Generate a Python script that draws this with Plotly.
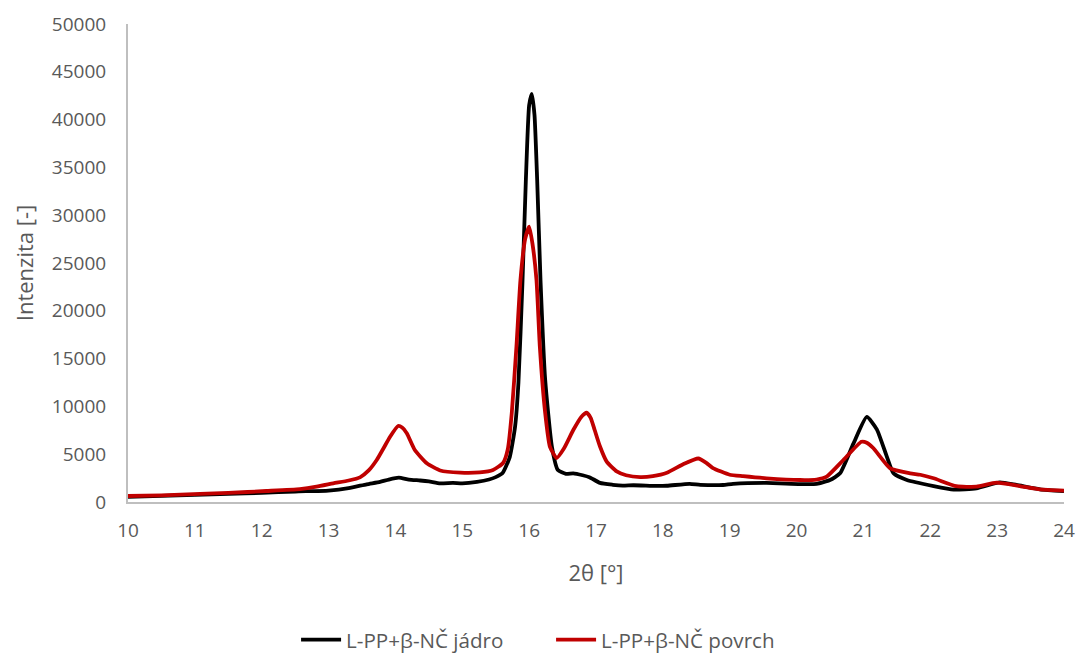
import plotly.graph_objects as go

# 2θ positions and intensities
x_core = [10.0, 10.5, 11.0, 11.5, 12.0, 12.5, 13.0, 13.3, 13.57, 13.77, 13.9, 14.05, 14.2, 14.37,
          14.5, 14.67, 14.86, 15.0, 15.22, 15.4, 15.5, 15.6, 15.71, 15.79, 15.84, 15.9, 15.95,
          16.0, 16.04, 16.08, 16.12, 16.17, 16.24, 16.34, 16.43, 16.55, 16.66, 16.8, 16.9, 17.06,
          17.25, 17.4, 17.56, 17.9, 18.06, 18.4, 18.56, 18.9, 19.05, 19.55, 20.05, 20.3, 20.5,
          20.65, 20.85, 21.05, 21.2, 21.35, 21.45, 21.65, 22.05, 22.35, 22.69, 23.04, 23.29,
          23.64, 24.0]
y_core = [550, 650, 750, 850, 950, 1100, 1200, 1450, 1850, 2100, 2350, 2550, 2350, 2250,
          2150, 1950, 2000, 1950, 2100, 2350, 2600, 3000, 4700, 7900, 12500, 23000, 33500,
          41500, 42700, 40500, 33700, 23200, 12760, 5800, 3350, 2950, 3000, 2800, 2600, 2000,
          1800, 1710, 1750, 1680, 1700, 1900, 1800, 1780, 1900, 2000, 1880, 1900, 2300,
          3000, 6100, 8900, 7600, 4750, 3000, 2300, 1670, 1300, 1430, 2050, 1780,
          1330, 1150]

x_surf = [10.0, 10.5, 11.08, 11.5, 12.07, 12.57, 12.82, 13.07, 13.3, 13.47, 13.6, 13.72, 13.82,
          13.92, 14.04, 14.1, 14.17, 14.29, 14.47, 14.67, 14.97, 15.26, 15.46, 15.61, 15.68,
          15.74, 15.81, 15.87, 15.94, 16.0, 16.05, 16.11, 16.16, 16.24, 16.31, 16.41, 16.52,
          16.66, 16.78, 16.86, 16.92, 16.98, 17.06, 17.16, 17.31, 17.45, 17.66, 17.85, 18.06,
          18.31, 18.53, 18.65, 18.75, 19.0, 19.2, 19.55, 20.05, 20.3, 20.45, 20.7, 20.97,
          21.05, 21.15, 21.4, 21.7, 21.85, 22.05, 22.39, 22.69, 22.99, 23.34, 23.64, 24.0]
y_surf = [630, 700, 850, 950, 1150, 1350, 1600, 1950, 2250, 2580, 3300, 4390, 5600,
          6830, 7950, 7800, 7190, 5440, 4050, 3300, 3070, 3100, 3350, 4080, 5500,
          9300, 16250, 23200, 27500, 28800, 27000, 23200, 16250, 9300, 5800, 4600, 5600,
          7530, 8900, 9340, 8800, 7530, 5800, 4220, 3200, 2800, 2600, 2700, 3050,
          3970, 4550, 4100, 3550, 2850, 2700, 2480, 2300, 2350, 2650, 4390, 6300,
          6200, 5620, 3520, 3000, 2850, 2480, 1650, 1600, 2020, 1670, 1330, 1200]

x_ticks = list(range(10, 25))
y_ticks = list(range(0, 50001, 5000))
y_tick_text = [str(v) for v in y_ticks]

font_family = "Open Sans, Liberation Sans, sans-serif"
grey = "#595959"

fig = go.Figure()
fig.add_trace(go.Scatter(x=x_core, y=y_core, mode="lines", name="L-PP+β-NČ jádro",
                         line=dict(color="#000000", width=3.8, shape="spline", smoothing=0.5)))
fig.add_trace(go.Scatter(x=x_surf, y=y_surf, mode="lines", name="L-PP+β-NČ povrch",
                         line=dict(color="#C00000", width=3.8, shape="spline", smoothing=0.5)))

fig.update_layout(
    width=1083, height=655,
    margin=dict(l=128, r=19, t=24, b=153, autoexpand=False),
    plot_bgcolor="white", paper_bgcolor="white",
    font=dict(family=font_family, size=19, color=grey),
    showlegend=True,
    legend=dict(orientation="h", x=0.452, xanchor="center", y=-0.288, yanchor="middle",
                font=dict(size=20.6, color=grey), itemwidth=40, entrywidth=200),
    xaxis=dict(range=[10, 24], tickvals=x_ticks, showgrid=False, zeroline=False,
               showline=True, linecolor="#BFBFBF", linewidth=2, ticks="", automargin=False,
               ticklabelstandoff=10, tickfont=dict(size=19, color=grey),
               title=dict(text="2θ [°]", standoff=24, font=dict(size=22, color=grey))),
    yaxis=dict(range=[0, 50000], tickvals=y_ticks, ticktext=y_tick_text,
               showgrid=False, zeroline=False, automargin=False,
               showline=True, linecolor="#BFBFBF", linewidth=2, ticks="",
               ticklabelstandoff=16, tickfont=dict(size=19, color=grey),
               title=dict(text="Intenzita [-]", standoff=12, font=dict(size=22, color=grey))),
)

# remove the default 8px page margin so the figure fills the window exactly
fig.write_html("out.html", config={"displayModeBar": False},
               post_script="document.body.style.margin='0';")
